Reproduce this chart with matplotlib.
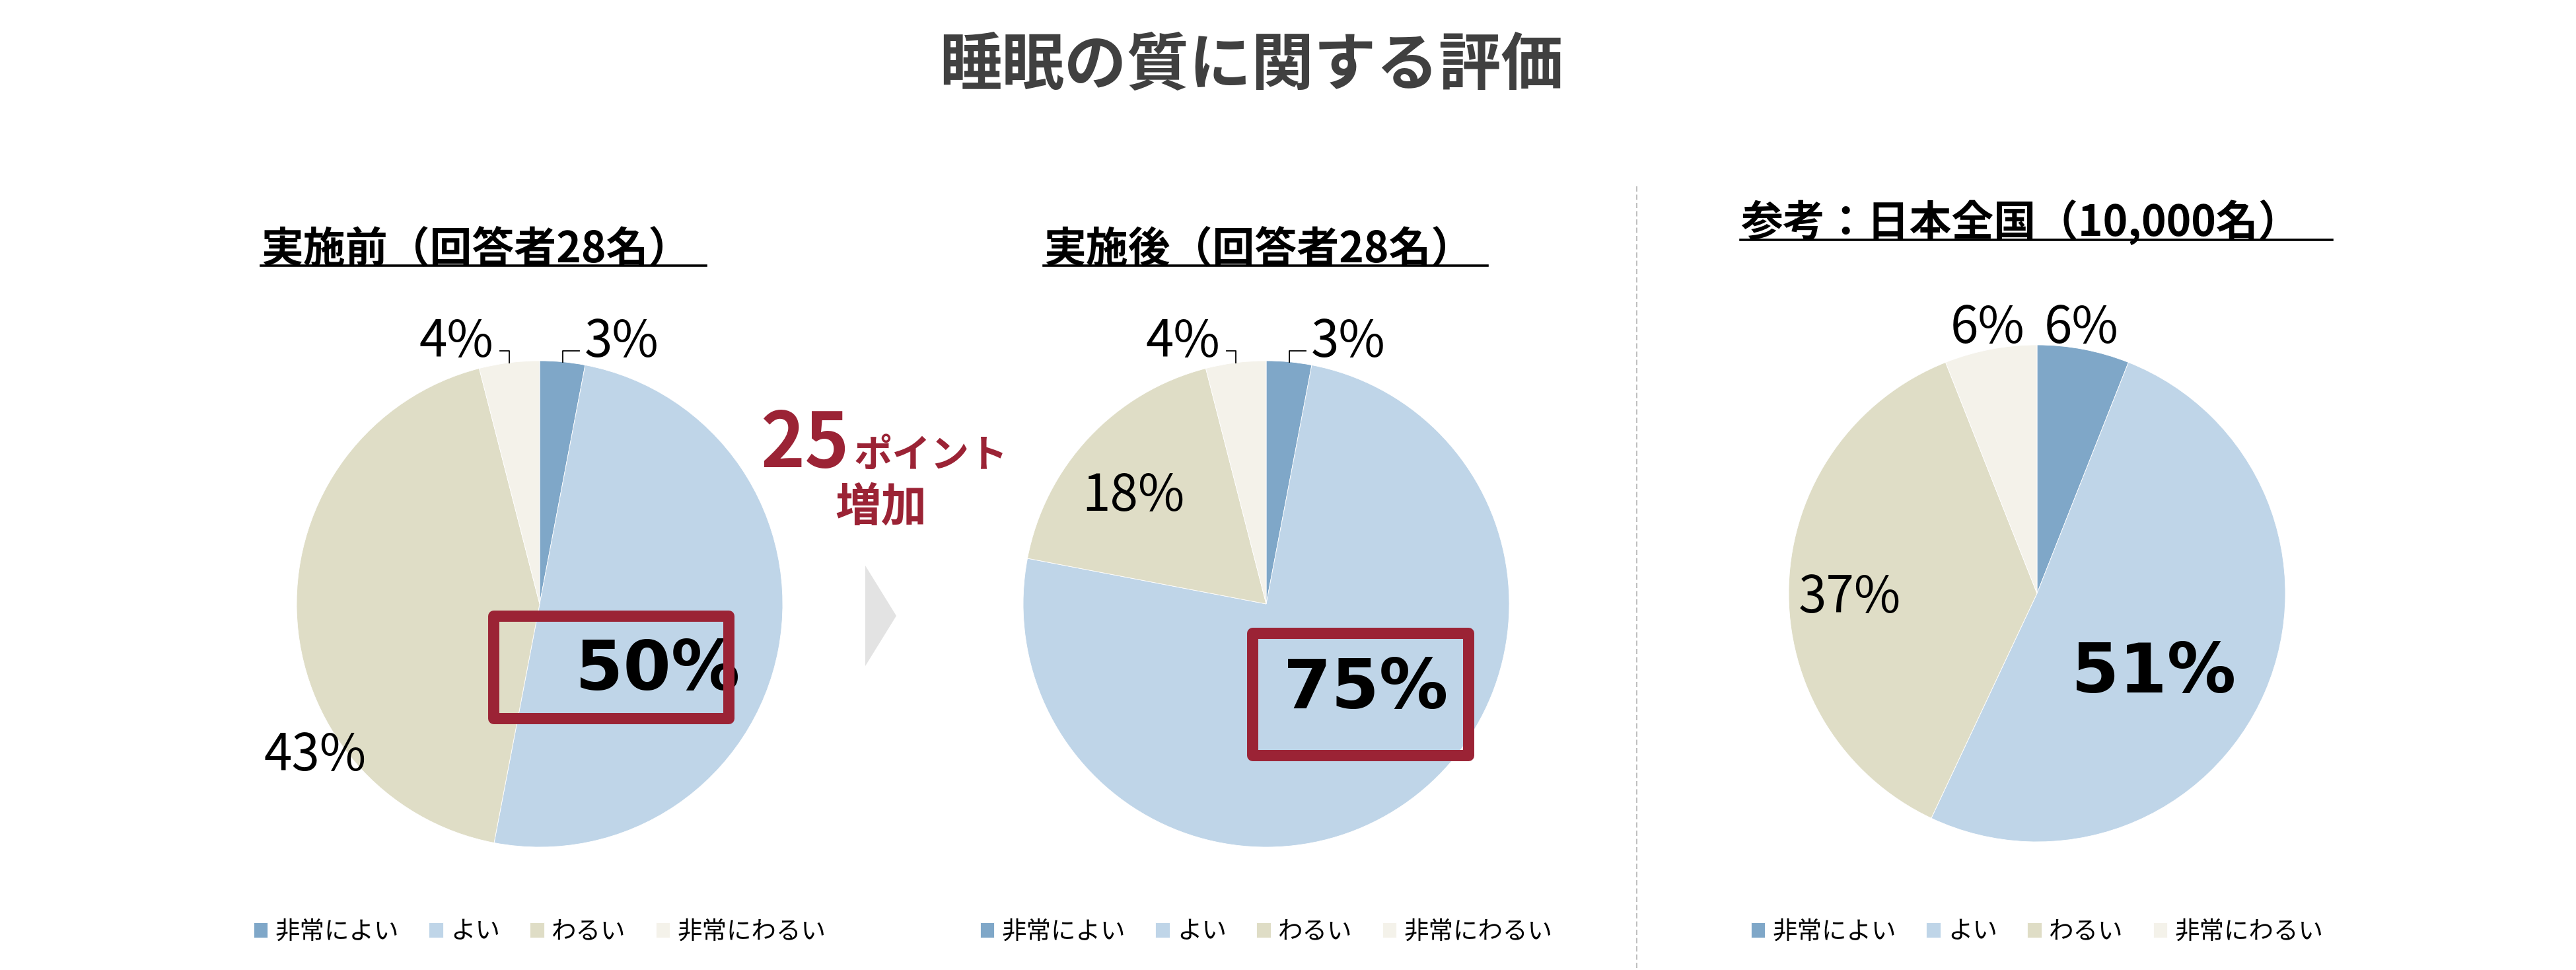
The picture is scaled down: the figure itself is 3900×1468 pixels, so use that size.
import matplotlib
matplotlib.use('Agg')
import matplotlib.pyplot as plt
import numpy as np
from matplotlib.patches import Rectangle, Polygon
from matplotlib.lines import Line2D

plt.rcParams['font.family'] = ['Noto Sans CJK JP', 'DejaVu Sans']

# data
categories = ['非常によい', 'よい', 'わるい', '非常にわるい']
before = [3, 50, 43, 4]
after = [3, 75, 18, 4]
national = [6, 51, 37, 6]
pie_titles = ['実施前（回答者28名）', '実施後（回答者28名）', '参考：日本全国（10,000名）']
main_title = '睡眠の質に関する評価'
gain_number = '25'
gain_unit = 'ポイント'
gain_word = '増加'
highlight = 1  # index of the slice shown in big bold text

colors = ['#7FA7C8', '#BFD5E8', '#DFDDC6', '#F4F2EA']
red = '#9B2335'

W, H = 3900, 1468
fig = plt.figure(figsize=(W / 100, H / 100), dpi=100)


def fx(x):
    return x / W


def fy(y):
    return 1 - y / H


# layout of each pie: centre / radius in pixels, label offsets in radius units
pies = [
    dict(values=before, cx=817, cy=914, r=368, title=pie_titles[0], tx=395, ty=397, ul=(395, 1069, 402),
         labels=[(0.185, 1.076, 'left'), (0.486, -0.275, 'center'), (-0.924, -0.625, 'center'), (-0.19, 1.076, 'right')],
         leaders=[True, False, False, True], box=(-0.19, -0.47, 0.967, 0.421)),
    dict(values=after, cx=1917, cy=914, r=368, title=pie_titles[1], tx=1580, ty=397, ul=(1580, 2252, 402),
         labels=[(0.185, 1.076, 'left'), (0.41, -0.353, 'center'), (-0.546, 0.443, 'center'), (-0.19, 1.076, 'right')],
         leaders=[True, False, False, True], box=(-0.057, -0.622, 0.889, 0.502)),
    dict(values=national, cx=3084, cy=898, r=376, title=pie_titles[2], tx=2635, ty=358, ul=(2635, 3531, 363),
         labels=[(0.178, 1.066, 'center'), (0.47, -0.324, 'center'), (-0.753, -0.019, 'center'), (-0.2, 1.066, 'center')],
         leaders=[False, False, False, False], box=None),
]

span = 1.3
for p in pies:
    r = p['r']
    side = 2 * span * r
    ax = fig.add_axes([fx(p['cx'] - span * r), fy(p['cy'] + span * r), side / W, side / H])
    wedges, _ = ax.pie(p['values'], colors=colors, startangle=90, counterclock=False,
                       wedgeprops=dict(edgecolor='white', linewidth=0.6))
    ax.set_xlim(-span, span)
    ax.set_ylim(-span, span)
    ax.set_aspect('equal')
    ax.axis('off')

    for i, (v, w) in enumerate(zip(p['values'], wedges)):
        lx, ly, ha = p['labels'][i]
        if i == highlight:
            ax.text(lx, ly, f'{v}%', ha='center', va='center', fontsize=75, fontweight='bold',
                    family='DejaVu Sans', color='black', zorder=5)
        else:
            ax.text(lx, ly, f'{v}%', ha=ha, va='center', fontsize=55, color='black', zorder=5)
        if p['leaders'][i]:
            mid = np.deg2rad((w.theta1 + w.theta2) / 2)
            x0, y0 = np.cos(mid), np.sin(mid)
            xe = lx - 0.022 if ha == 'left' else lx + 0.027
            ax.add_line(Line2D([x0, x0, xe], [y0, 1.04, 1.04], color='black', lw=1.3, zorder=4))

    if p['box'] is not None:
        bx, by, bw, bh = p['box']
        ax.add_patch(Rectangle((bx, by), bw, bh, fill=False, edgecolor=red, linewidth=12.2,
                               joinstyle='round', zorder=6, clip_on=False))

    ax.legend(wedges, categories, loc='center', bbox_to_anchor=(fx(p['cx']), fy(1410)),
              bbox_transform=fig.transFigure, ncol=4, frameon=False, fontsize=27,
              handlelength=0.58, handleheight=0.58, handletextpad=0.3, columnspacing=1.2,
              borderpad=0)

    fig.text(fx(p['tx']), fy(p['ty']), p['title'], ha='left', va='baseline',
             fontsize=46, fontweight='bold', color='black')
    x0, x1, yl = p['ul']
    fig.add_artist(Line2D([fx(x0), fx(x1)], [fy(yl), fy(yl)], color='black', lw=2.6))

# main title
fig.text(fx(1895), fy(100), main_title, ha='center', va='center', fontsize=68,
         fontweight='bold', color='#404040')

# divider
fig.add_artist(Line2D([fx(2478), fx(2478)], [fy(282), fy(1468)], color='#BFBFBF', lw=1.44,
                      linestyle=(0, (4, 2.25))))

# arrow and gain text
fig.add_artist(Polygon([(fx(1310), fy(856)), (fx(1357), fy(932)), (fx(1310), fy(1008))],
                       closed=True, facecolor='#E3E3E3', edgecolor='none', transform=fig.transFigure))
fig.text(fx(1285), fy(707), gain_number, ha='right', va='baseline', fontsize=82,
         fontweight='bold', color=red)
fig.text(fx(1293), fy(707), gain_unit, ha='left', va='baseline', fontsize=42,
         fontweight='bold', color=red)
fig.text(fx(1334), fy(768), gain_word, ha='center', va='center', fontsize=50,
         fontweight='bold', color=red)

fig.savefig('out.png', dpi=100)
